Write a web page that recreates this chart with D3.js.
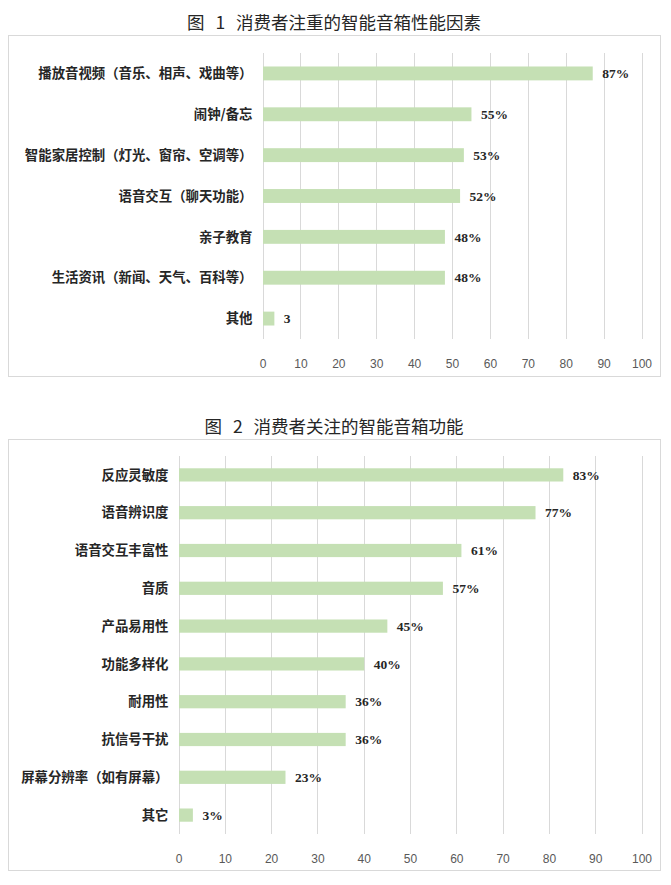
<!DOCTYPE html>
<html lang="zh">
  <head>
    <meta charset="utf-8">
    <title>智能音箱</title>
    <script src="https://cdnjs.cloudflare.com/ajax/libs/d3/7.8.5/d3.min.js"></script>
    <style type="text/css">
      body { margin: 0; background: #fff; }
      .title { font-family: 'Noto Sans CJK SC'; font-size: 17.5px; fill: #262626; word-spacing: 7px; }
      .cat { font-family: 'Noto Sans CJK SC'; font-size: 13.4px; font-weight: bold; fill: #262626; }
      .val { font-family: 'Liberation Serif'; font-size: 13.5px; font-weight: bold; fill: #262626; }
      .tick text { font-family: 'Liberation Sans'; font-size: 12px; fill: #595959; }
    </style>
  </head>
  <body>
    <svg id="chart" width="671" height="885"></svg>
    <script type="text/javascript">
// figure 1
var title1 = "图 1 消费者注重的智能音箱性能因素";
var cats1 = ["播放音视频（音乐、相声、戏曲等）", "闹钟/备忘", "智能家居控制（灯光、窗帘、空调等）",
  "语音交互（聊天功能）", "亲子教育", "生活资讯（新闻、天气、百科等）", "其他"];
var vals1 = [87, 55, 53, 52, 48, 48, 3];
var labels1 = ["87%", "55%", "53%", "52%", "48%", "48%", "3"];

// figure 2
var title2 = "图 2 消费者关注的智能音箱功能";
var cats2 = ["反应灵敏度", "语音辨识度", "语音交互丰富性", "音质", "产品易用性",
  "功能多样化", "耐用性", "抗信号干扰", "屏幕分辨率（如有屏幕）", "其它"];
var vals2 = [83, 77, 61, 57, 45, 40, 36, 36, 23, 3];
var labels2 = ["83%", "77%", "61%", "57%", "45%", "40%", "36%", "36%", "23%", "3%"];

var ticks = [0, 10, 20, 30, 40, 50, 60, 70, 80, 90, 100];

var svg = d3.select("#chart");

function drawChart(o) {
  svg.append("text")
    .attr("class", "title")
    .attr("x", 334)
    .attr("y", o.titleY)
    .attr("text-anchor", "middle")
    .text(o.title);

  // frame
  svg.append("rect")
    .attr("x", 8.5).attr("y", o.boxTop + 0.5)
    .attr("width", 652).attr("height", o.boxBottom - o.boxTop)
    .attr("fill", "none")
    .attr("stroke", "#d9d9d9");

  var x = d3.scaleLinear().domain([0, 100]).range([o.x0, 641.5]);
  var y = d3.scaleBand().domain(o.cats).range([o.top, o.bottom]).paddingInner(o.pad).paddingOuter(o.pad / 2);

  var g = svg.append("g");

  // gridlines
  g.selectAll("line.grid").data(ticks).enter().append("line")
    .attr("class", "grid")
    .attr("x1", function(d) { return Math.round(x(d)) + 0.5; })
    .attr("x2", function(d) { return Math.round(x(d)) + 0.5; })
    .attr("y1", o.top)
    .attr("y2", o.bottom)
    .attr("stroke", "#d9d9d9")
    .attr("stroke-width", 1);

  var xAxis = d3.axisBottom(x).tickValues(ticks).tickSize(0).tickPadding(0);
  var ax = g.append("g")
    .attr("transform", "translate(0," + (o.bottom + 20) + ")")
    .call(xAxis);
  ax.select(".domain").remove();

  g.selectAll("rect.bar").data(o.vals).enter().append("rect")
    .attr("class", "bar")
    .attr("x", x(0) + 0.5)
    .attr("y", function(d, i) { return y(o.cats[i]); })
    .attr("width", function(d) { return x(d) - x(0); })
    .attr("height", y.bandwidth())
    .attr("fill", "#c5e0b4");

  g.selectAll("text.val").data(o.vals).enter().append("text")
    .attr("class", "val")
    .attr("x", function(d) { return x(d) + 10; })
    .attr("y", function(d, i) { return y(o.cats[i]) + y.bandwidth() / 2; })
    .attr("dy", "0.35em")
    .text(function(d, i) { return o.labels[i]; });

  g.selectAll("text.cat").data(o.cats).enter().append("text")
    .attr("class", "cat")
    .attr("x", o.x0 - 10)
    .attr("y", function(d) { return y(d) + y.bandwidth() / 2; })
    .attr("dy", "0.35em")
    .attr("text-anchor", "end")
    .text(function(d) { return d; });
}

drawChart({
  title: title1, titleY: 29, boxTop: 35, boxBottom: 376,
  x0: 262.5, top: 53, bottom: 339, pad: 0.66,
  cats: cats1, vals: vals1, labels: labels1
});

drawChart({
  title: title2, titleY: 433, boxTop: 439, boxBottom: 870,
  x0: 178.5, top: 456, bottom: 834, pad: 0.65,
  cats: cats2, vals: vals2, labels: labels2
});
    </script>
  </body>
</html>
